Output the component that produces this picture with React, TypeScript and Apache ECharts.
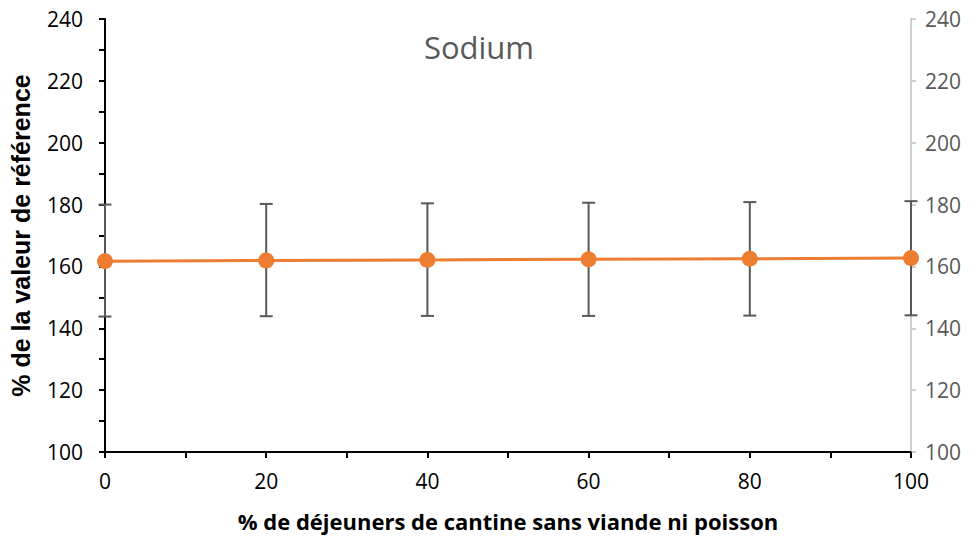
import React, { useEffect, useRef } from "react";
import * as echarts from "echarts";

const xValues = [0, 20, 40, 60, 80, 100];
const meanValues = [161.7, 161.9, 162.1, 162.3, 162.5, 162.7];
const upperValues = [180.0, 180.2, 180.4, 180.6, 180.8, 181.1];
const lowerValues = [143.8, 143.9, 144.0, 144.0, 144.1, 144.2];

const FONT = "'Open Sans', 'Liberation Sans', sans-serif";

export default function App() {
  const ref = useRef<HTMLDivElement>(null);
  useEffect(() => {
    if (!ref.current) return;
    const chart = echarts.init(ref.current, null, { renderer: "svg" });
    const errData = xValues.map((x, i) => [x, lowerValues[i], upperValues[i]]);
    chart.setOption({
      animation: false,
      textStyle: { fontFamily: FONT },
      title: {
        text: "Sodium",
        left: 474,
        top: 26,
        textAlign: "center",
        textStyle: { fontFamily: FONT, fontSize: 31, fontWeight: "normal", color: "#595959" },
      },
      grid: { left: 104, right: 65, top: 19, bottom: 84 },
      xAxis: {
        type: "value",
        min: 0,
        max: 100,
        interval: 20,
        name: "% de déjeuners de cantine sans viande ni poisson",
        nameLocation: "middle",
        nameGap: 58,
        nameTextStyle: { fontFamily: FONT, fontSize: 22, fontWeight: "bold", color: "#000" },
        axisLine: { show: true, lineStyle: { color: "#000", width: 2 } },
        axisTick: { show: true, length: 6, lineStyle: { color: "#000", width: 2 } },
        minorTick: { show: true, splitNumber: 2, length: 6, lineStyle: { color: "#000", width: 2 } },
        axisLabel: { fontFamily: FONT, fontSize: 21, color: "#000", margin: 18 },
        splitLine: { show: false },
      },
      yAxis: [
        {
          type: "value",
          min: 100,
          max: 240,
          interval: 20,
          position: "left",
          name: "% de la valeur de référence",
          nameLocation: "middle",
          nameGap: 72,
          nameTextStyle: { fontFamily: "'Liberation Sans', Arial, sans-serif", fontSize: 25, fontWeight: "bold", color: "#000" },
          axisLine: { show: true, lineStyle: { color: "#000", width: 2 } },
          axisTick: { show: true, length: 6, lineStyle: { color: "#000", width: 2 } },
          minorTick: { show: true, splitNumber: 2, length: 6, lineStyle: { color: "#000", width: 2 } },
          axisLabel: { fontFamily: FONT, fontSize: 21, color: "#000", margin: 22 },
          splitLine: { show: false },
        },
        {
          type: "value",
          min: 100,
          max: 240,
          interval: 20,
          position: "right",
          axisLine: { show: true, lineStyle: { color: "#BFBFBF", width: 1.5 } },
          axisTick: { show: true, length: 5, lineStyle: { color: "#BFBFBF", width: 1.5 } },
          axisLabel: { fontFamily: FONT, fontSize: 21, color: "#595959", margin: 14 },
          splitLine: { show: false },
        },
      ],
      series: [
        {
          type: "custom",
          z: 1,
          data: errData,
          encode: { x: 0, y: [1, 2] },
          renderItem: (params: any, api: any) => {
            const x = api.value(0);
            const lo = api.coord([x, api.value(1)]);
            const hi = api.coord([x, api.value(2)]);
            const w = 6.5;
            const style = { stroke: "#595959", lineWidth: 2 };
            return {
              type: "group",
              children: [
                { type: "line", shape: { x1: lo[0], y1: lo[1], x2: hi[0], y2: hi[1] }, style },
                { type: "line", shape: { x1: hi[0] - w, y1: hi[1], x2: hi[0] + w, y2: hi[1] }, style },
                { type: "line", shape: { x1: lo[0] - w, y1: lo[1], x2: lo[0] + w, y2: lo[1] }, style },
              ],
            };
          },
        },
        {
          type: "line",
          z: 3,
          data: xValues.map((x, i) => [x, meanValues[i]]),
          symbol: "circle",
          symbolSize: 16,
          lineStyle: { color: "#ED7D31", width: 3 },
          itemStyle: { color: "#ED7D31" },
        },
      ],
    });
    return () => chart.dispose();
  }, []);
  return <div ref={ref} style={{ width: 976, height: 537, position: "absolute", left: 0, top: 0 }} />;
}
